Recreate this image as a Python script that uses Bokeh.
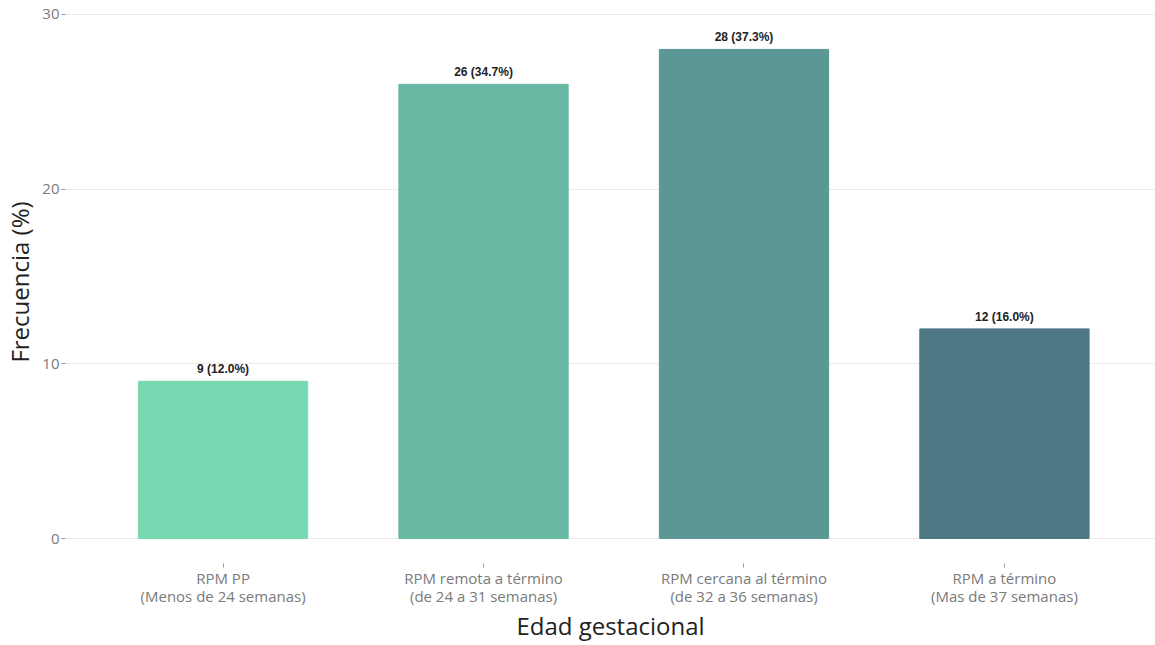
from bokeh.plotting import figure
from bokeh.models import ColumnDataSource, Range1d, FixedTicker
from bokeh.core.properties import value
from bokeh.embed import file_html
from bokeh.resources import INLINE

categories = [
    "RPM PP\n(Menos de 24 semanas)",
    "RPM remota a término\n(de 24 a 31 semanas)",
    "RPM cercana al término\n(de 32 a 36 semanas)",
    "RPM a término\n(Mas de 37 semanas)",
]
counts = [9, 26, 28, 12]
percents = [12.0, 34.7, 37.3, 16.0]
colors = ["#78D8B1", "#67B9A3", "#5B9895", "#4F7885"]
y_ticks = [0, 10, 20, 30]
x_title = "Edad gestacional"
y_title = "Frecuencia (%)"

xs = list(range(1, len(categories) + 1))
labels = [f"{c} ({p:.1f}%)" for c, p in zip(counts, percents)]
src = ColumnDataSource(dict(x=xs, top=counts, color=colors, label=labels))

p = figure(width=1155, height=645, output_backend="svg", toolbar_location=None,
           x_range=Range1d(0.395, 4.58), y_range=Range1d(-1.43, 30.8),
           min_border_left=65, min_border_right=0, min_border_top=0, min_border_bottom=0)
p.outline_line_color = None
p.background_fill_color = "white"
p.border_fill_color = "white"

p.vbar(x="x", top="top", width=0.65, bottom=0, color="color", source=src)
p.text(x="x", y="top", text="label", source=src, text_align="center",
       text_baseline="bottom", y_offset=-5, text_font=value("Liberation Sans"),
       text_font_style="bold", text_font_size="12px", text_color="#222222")

p.xaxis.ticker = FixedTicker(ticks=xs)
p.xaxis.major_label_overrides = {x: c for x, c in zip(xs, categories)}
p.yaxis.ticker = FixedTicker(ticks=y_ticks)

for ax in (p.xaxis[0], p.yaxis[0]):
    ax.axis_line_color = None
    ax.major_tick_in = 0
    ax.major_tick_out = 4
    ax.major_tick_line_color = "#999999"
    ax.minor_tick_line_color = None
    ax.major_label_text_font = "Open Sans"
    ax.major_label_text_font_size = "15px"
    ax.major_label_text_color = "#7A7A7A"
    ax.axis_label_text_font = "Open Sans"
    ax.axis_label_text_font_size = "24px"
    ax.axis_label_text_font_style = "normal"
    ax.axis_label_text_color = "#222222"

p.xaxis.major_label_text_line_height = 0.93
p.xaxis.axis_label = x_title
p.yaxis.axis_label = y_title
p.xaxis.major_label_standoff = 0
p.yaxis.major_label_standoff = 2
p.xaxis.axis_label_standoff = 0
p.yaxis.axis_label_standoff = 3

p.xgrid.grid_line_color = None
p.ygrid.grid_line_color = "#EBEBEB"
p.ygrid.grid_line_width = 1

open("out.html", "w").write(file_html(p, INLINE))
